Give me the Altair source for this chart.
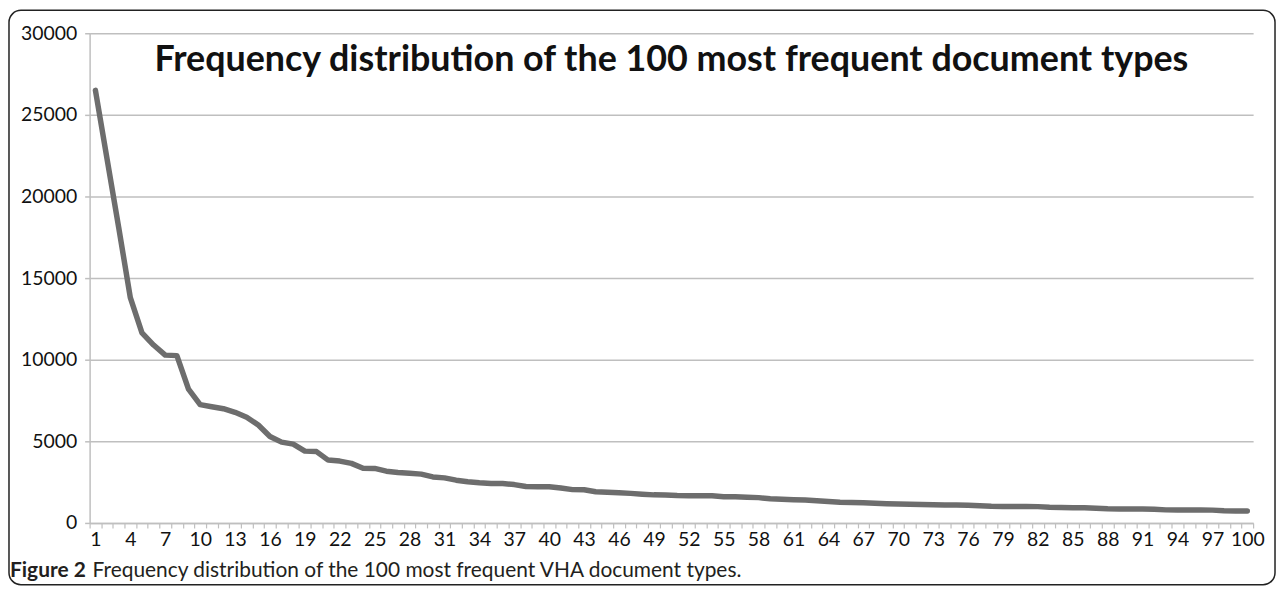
import altair as alt
import pandas as pd

ranks = list(range(1, 101))
counts = [26500, 22300, 18100, 13800, 11650, 10900, 10280, 10250, 8200, 7250,
          7120, 7000, 6780, 6480, 6000, 5300, 4950, 4830, 4400, 4370,
          3850, 3790, 3650, 3350, 3340, 3170, 3090, 3040, 2990, 2820,
          2760, 2620, 2520, 2460, 2420, 2410, 2350, 2230, 2220, 2220,
          2140, 2040, 2030, 1910, 1880, 1850, 1810, 1760, 1720, 1710,
          1680, 1670, 1670, 1660, 1610, 1600, 1570, 1550, 1480, 1450,
          1420, 1400, 1360, 1310, 1270, 1250, 1230, 1200, 1180, 1160,
          1150, 1130, 1110, 1100, 1100, 1090, 1050, 1020, 1010, 1010,
          1010, 1000, 960, 940, 935, 930, 900, 870, 860, 855,
          850, 845, 800, 795, 790, 790, 785, 750, 735, 730]
y_ticks = [0, 5000, 10000, 15000, 20000, 25000, 30000]

chart_title = "Frequency distribution of the 100 most frequent document types"
caption_bold = "Figure 2"
caption_rest = "Frequency distribution of the 100 most frequent VHA document types."

W, H = 1275, 580
PW, PH = 1169, 492
PL, PT = 82, 24
FONT = "Lato"

df = pd.DataFrame({"rank": ranks, "count": counts})

line = alt.Chart(df).mark_line(
    color="#6d6d6d", strokeWidth=5.5, strokeCap="round", strokeJoin="round"
).encode(
    x=alt.X("rank:O",
            scale=alt.Scale(type="band", paddingInner=0, paddingOuter=0),
            axis=alt.Axis(title=None, grid=False, tickBand="extent", tickSize=5,
                          tickColor="#bfbfbf", tickWidth=1.2,
                          domainColor="#bfbfbf", domainWidth=1.5,
                          labelAngle=0, labelOverlap=False, labelPadding=3,
                          labelFont=FONT, labelFontSize=19.5, labelColor="#111",
                          labelExpr="(datum.value - 1) % 3 == 0 ? datum.label : ''")),
    y=alt.Y("count:Q",
            scale=alt.Scale(domain=[0, 30000], nice=False),
            axis=alt.Axis(title=None, values=y_ticks, format="d", grid=True,
                          gridColor="#bfbfbf", gridWidth=1.5,
                          tickSize=5, tickColor="#bfbfbf", tickWidth=1.5,
                          domainColor="#bfbfbf", domainWidth=1.5,
                          labelPadding=8, labelFont=FONT, labelFontSize=19.5,
                          labelColor="#111")),
)

one = pd.DataFrame({"k": [0]})

title_mark = alt.Chart(one).mark_text(
    text=chart_title, font=FONT, fontSize=36, fontWeight="bold",
    color="#111", align="center", baseline="alphabetic"
).encode(x=alt.value(PW / 2), y=alt.value(38))

cap1 = alt.Chart(one).mark_text(
    text=caption_bold, font=FONT, fontSize=21, fontWeight="bold",
    color="#231f20", align="left", baseline="alphabetic"
).encode(x=alt.value(-80), y=alt.value(546))

cap2 = alt.Chart(one).mark_text(
    text=caption_rest, font=FONT, fontSize=21,
    color="#231f20", align="left", baseline="alphabetic"
).encode(x=alt.value(3), y=alt.value(546))

border = alt.Chart(one).mark_rect(
    fillOpacity=0, stroke="#222", strokeWidth=1.5, cornerRadius=12
).encode(x=alt.value(-PL + 1), x2=alt.value(W - PL - 2),
         y=alt.value(-PT + 1), y2=alt.value(H - PT - 2))

chart = alt.layer(line, title_mark, cap1, cap2, border).properties(
    width=PW, height=PH,
    autosize=alt.AutoSizeParams(type="none"),
    padding={"left": PL, "top": PT, "right": W - PL - PW, "bottom": H - PT - PH},
    background="white",
).configure_view(stroke=None)

chart.save("out.html", embed_options={"renderer": "svg", "actions": False})
